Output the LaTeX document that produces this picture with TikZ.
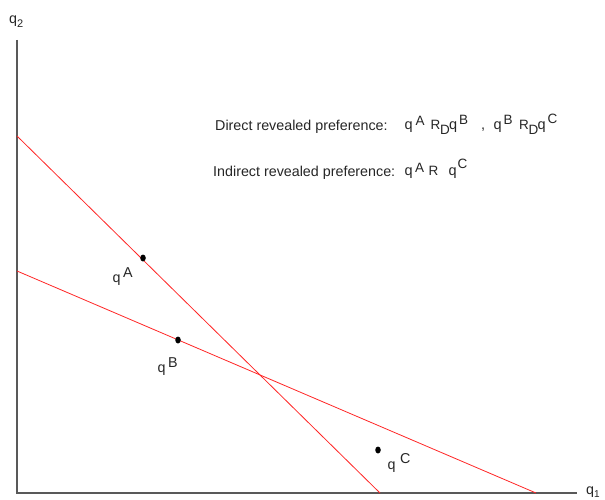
\documentclass[tikz,border=0pt]{standalone}
\usepackage{fontspec}
\setmainfont{Liberation Sans}
\usetikzlibrary{shapes.geometric}
\newcommand\gl[3]{\makebox[0pt][l]{\hspace{#1pt}\raisebox{#2pt}{#3}}}
\newcommand\sm[1]{{\fontsize{13.5}{15}\selectfont #1}}
\begin{document}
\begin{tikzpicture}[x=1pt,y=-1pt,
  axis/.style={draw=black!65,line width=1.3pt},
  budget/.style={draw=red!85,line width=0.8pt},
  dot/.style={fill=black,ellipse,inner sep=0pt,minimum width=5.5pt,minimum height=7pt},
  lbl/.style={font=\fontsize{14.3}{16}\selectfont,text=black!85,inner sep=0pt,anchor=base west},
  frm/.style={font=\fontsize{14.5}{16}\selectfont,text=black!85,inner sep=0pt,anchor=base west}]
\useasboundingbox (0,0) rectangle (605,500);
\fill[white] (0,0) rectangle (605,500);
% axes
\coordinate (O) at (17,493);
\coordinate (ytop) at (17,40);
\coordinate (xend) at (577,493);
\draw[axis] (ytop) -- (O) -- (xend);
\node[lbl] (q2) at (9,24) {q\raisebox{-4pt}{\fontsize{11}{12}\selectfont 2}};
\node[lbl] (q1) at (586,494) {q\raisebox{-3pt}{\fontsize{10}{12}\selectfont 1}};
% budget lines
\coordinate (L1a) at (17,136);
\coordinate (L1b) at (380,493);
\coordinate (L2a) at (17,271);
\coordinate (L2b) at (536,493);
\draw[budget] (L1a) -- (L1b);
\draw[budget] (L2a) -- (L2b);
% points
\node[dot] (A) at (143,258) {};
\node[dot] (B) at (178,340) {};
\node[dot] (C) at (378,450) {};
\node[lbl] (lA) at (112,282) {\gl{0}{0}{q}\gl{10.5}{5}{A}\hspace{21pt}};
\node[lbl] (lB) at (157,372) {\gl{0}{0}{q}\gl{10.5}{5}{B}\hspace{21pt}};
\node[lbl] (lC) at (387,469) {\gl{0}{0}{q}\gl{12.5}{6}{C}\hspace{23pt}};
% texts
\node[lbl] (t1) at (215,131) {Direct revealed preference:};
\node[frm] (f1) at (400,130) {\gl{4}{0}{q}\gl{15}{4.5}{\sm{A}}\gl{30}{0}{\sm{R}}\gl{39.5}{-5}{\sm{D}}\gl{48.5}{0}{q}\gl{58.5}{5}{\sm{B}}\gl{80.5}{0}{,}\gl{93}{0}{q}\gl{103}{5}{\sm{B}}\gl{118.5}{0}{\sm{R}}\gl{128}{-5}{\sm{D}}\gl{137}{0}{q}\gl{147}{6}{\sm{C}}\hspace{157pt}};
\node[lbl] (t2) at (213,176) {Indirect revealed preference:};
\node[frm] (f2) at (400,175.5) {\gl{4}{0}{q}\gl{14.5}{3.5}{\sm{A}}\gl{28}{0}{\sm{R}}\gl{48}{0}{q}\gl{57}{7.5}{\sm{C}}\hspace{70pt}};
\end{tikzpicture}
\end{document}
